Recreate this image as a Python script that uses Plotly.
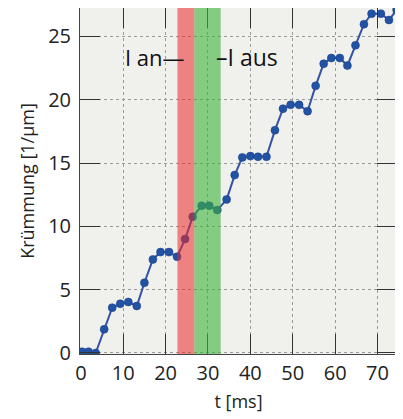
import plotly.graph_objects as go

t_ms = [0.3, 1.8, 3.5, 5.5, 7.4, 9.3, 11.2, 13.2, 15.0, 17.0, 18.8, 20.8, 22.7, 24.6,
        26.4, 28.5, 30.3, 32.2, 34.4, 36.3, 38.1, 40.0, 41.8, 43.8, 45.8, 47.7, 49.5,
        51.5, 53.5, 55.4, 57.3, 59.1, 61.1, 62.9, 64.8, 66.8, 68.6, 70.8, 72.7, 74.5]
kruemmung = [0.1, 0.1, 0.0, 1.87, 3.58, 3.89, 4.03, 3.71, 5.55, 7.39, 7.97, 7.97, 7.6,
             9.0, 10.76, 11.63, 11.63, 11.29, 12.13, 14.05, 15.45, 15.55, 15.5, 15.5,
             17.6, 19.3, 19.6, 19.6, 19.1, 21.1, 22.85, 23.3, 23.3, 22.7, 24.3, 25.97,
             26.8, 26.8, 26.3, 27.1]
band_on = [22.8, 26.8]
band_off = [26.8, 33.0]
x_ticks = [0, 10, 20, 30, 40, 50, 60, 70]
y_ticks = [0, 5, 10, 15, 20, 25]

FONT = "Open Sans"
fig = go.Figure()
fig.add_trace(go.Scatter(
    x=t_ms, y=kruemmung, mode="lines+markers",
    line=dict(color="#3352A8", width=2),
    marker=dict(color="#2152A3", size=8, line=dict(color="#1B3F8A", width=0.5)),
    showlegend=False,
))
fig.add_shape(type="rect", xref="x", yref="paper", x0=band_on[0], x1=band_on[1], y0=0, y1=1,
              fillcolor="rgb(235,40,40)", opacity=0.55, line_width=0, layer="above")
fig.add_shape(type="rect", xref="x", yref="paper", x0=band_off[0], x1=band_off[1], y0=0, y1=1,
              fillcolor="rgb(60,180,60)", opacity=0.6, line_width=0, layer="above")
fig.add_annotation(x=25.0, y=23.4, text="I an—", showarrow=False, xanchor="right",
                   font=dict(family=FONT, size=22, color="#111"))
fig.add_annotation(x=31.4, y=23.4, text="–I aus", showarrow=False, xanchor="left",
                   font=dict(family=FONT, size=23, color="#111"))

axis_common = dict(
    showgrid=True, gridcolor="#9a9a9a", griddash="dot", gridwidth=1,
    ticks="inside", ticklen=20, tickcolor="#333", tickwidth=1,
    showline=True, linecolor="#444", linewidth=1, mirror="ticks",
    zeroline=False, tickfont=dict(family=FONT, size=20, color="#222"),
    automargin=False,
)
fig.update_xaxes(range=[-0.2, 74.6], tickvals=x_ticks, ticklabelstandoff=1,
                 title=dict(text="t [ms]", standoff=10, font=dict(family=FONT, size=18, color="#222")),
                 **axis_common)
fig.update_yaxes(range=[-0.08, 27.25], tickvals=y_ticks, ticklabelstandoff=4,
                 title=dict(text="Krümmung [1/µm]", standoff=8, font=dict(family=FONT, size=18, color="#222")),
                 **axis_common)
fig.update_layout(
    width=395, height=411, margin=dict(l=72, r=6, t=0, b=65),
    plot_bgcolor="#F0F0EC", paper_bgcolor="white",
    font=dict(family=FONT),
)
fig.write_html("out.html")
